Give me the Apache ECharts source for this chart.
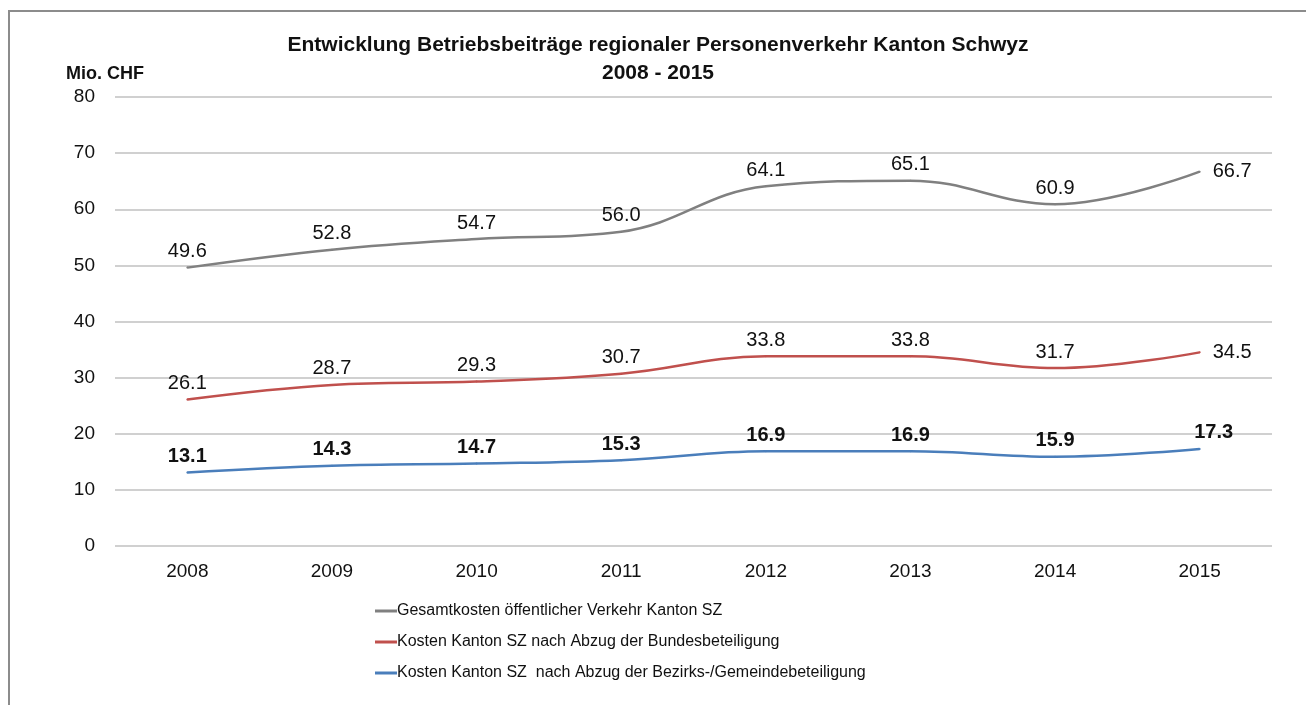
<!DOCTYPE html>
<html>
<head>
<meta charset="utf-8">
<script src="https://cdn.jsdelivr.net/npm/echarts@6/dist/echarts.min.js"></script>
<style>
html, body { margin: 0; padding: 0; background: #fff; }
#main { width: 1306px; height: 705px; }
#frame { position: absolute; left: 8px; top: 10px; width: 1298px; height: 695px;
         border-top: 2px solid #8c8c8c; border-left: 2px solid #8c8c8c; pointer-events: none; }
</style>
</head>
<body>
<div id="main"></div>
<div id="frame"></div>
<script>
// Daten
var years = ['2008', '2009', '2010', '2011', '2012', '2013', '2014', '2015'];
var gesamt = [49.6, 52.8, 54.7, 56.0, 64.1, 65.1, 60.9, 66.7];
var bund = [26.1, 28.7, 29.3, 30.7, 33.8, 33.8, 31.7, 34.5];
var bezirk = [13.1, 14.3, 14.7, 15.3, 16.9, 16.9, 15.9, 17.3];
var names = [
    'Gesamtkosten öffentlicher Verkehr Kanton SZ',
    'Kosten Kanton SZ nach Abzug der Bundesbeteiligung',
    'Kosten Kanton SZ  nach Abzug der Bezirks-/Gemeindebeteiligung'
];

var sans = "'Liberation Sans', Arial, sans-serif";

// letzter Punkt: Beschriftung rechts
function withLast(arr, lbl) {
    return arr.map(function (v, i) {
        if (i === arr.length - 1) {
            return { value: v, label: lbl };
        }
        return v;
    });
}

function lineSeries(name, color, data, lastLabel, bold) {
    return {
        name: name,
        type: 'line',
        smooth: 0.4,
        symbol: 'circle',
        symbolSize: 2,
        showSymbol: true,
        color: color,
        itemStyle: { color: color },
        lineStyle: { width: 2.5, color: color },
        label: {
            show: true,
            position: 'top',
            distance: 5,
            fontFamily: sans,
            fontSize: 20,
            fontWeight: bold ? 'bold' : 'normal',
            color: '#111',
            formatter: function (p) { return Number(p.value).toFixed(1); }
        },
        data: withLast(data, lastLabel)
    };
}

var myChart = echarts.init(document.getElementById('main'));

var option = {
    animation: false,
    title: [{
        text: 'Entwicklung Betriebsbeiträge regionaler Personenverkehr Kanton Schwyz\n2008 - 2015',
        left: 653,
        top: 26,
        textAlign: 'center',
        textStyle: {
            fontFamily: sans,
            fontSize: 21,
            fontWeight: 'bold',
            color: '#111',
            lineHeight: 28
        }
    }, {
        text: 'Mio. CHF',
        left: 61,
        top: 60,
        textStyle: {
            fontFamily: sans,
            fontSize: 18,
            fontWeight: 'bold',
            color: '#111'
        }
    }],
    legend: {
        orient: 'vertical',
        left: 370,
        top: 598,
        itemGap: 15,
        itemWidth: 22,
        itemHeight: 3,
        icon: 'rect',
        textStyle: {
            fontFamily: sans,
            fontSize: 16,
            color: '#111',
            padding: [0, 0, 0, -5]
        },
        data: names
    },
    grid: {
        left: 115,
        right: 34,
        top: 97,
        bottom: 159
    },
    xAxis: {
        type: 'category',
        data: years,
        boundaryGap: true,
        axisLine: { show: false },
        axisTick: { show: false },
        axisLabel: {
            margin: 16,
            fontFamily: sans,
            fontSize: 19,
            color: '#111'
        }
    },
    yAxis: {
        type: 'value',
        min: 0,
        max: 80,
        interval: 10,
        axisLine: { show: false },
        axisTick: { show: false },
        axisLabel: {
            margin: 20,
            fontFamily: sans,
            fontSize: 19,
            color: '#111'
        },
        splitLine: {
            lineStyle: { color: '#d0d0d0', width: 2 }
        }
    },
    series: [
        lineSeries(names[0], '#808080', gesamt, { position: 'right', distance: 12 }, false),
        lineSeries(names[1], '#c0504d', bund, { position: 'right', distance: 12 }, false),
        lineSeries(names[2], '#4a7ebb', bezirk, { position: 'top', offset: [14, 0] }, true)
    ]
};

myChart.setOption(option);
</script>
</body>
</html>
